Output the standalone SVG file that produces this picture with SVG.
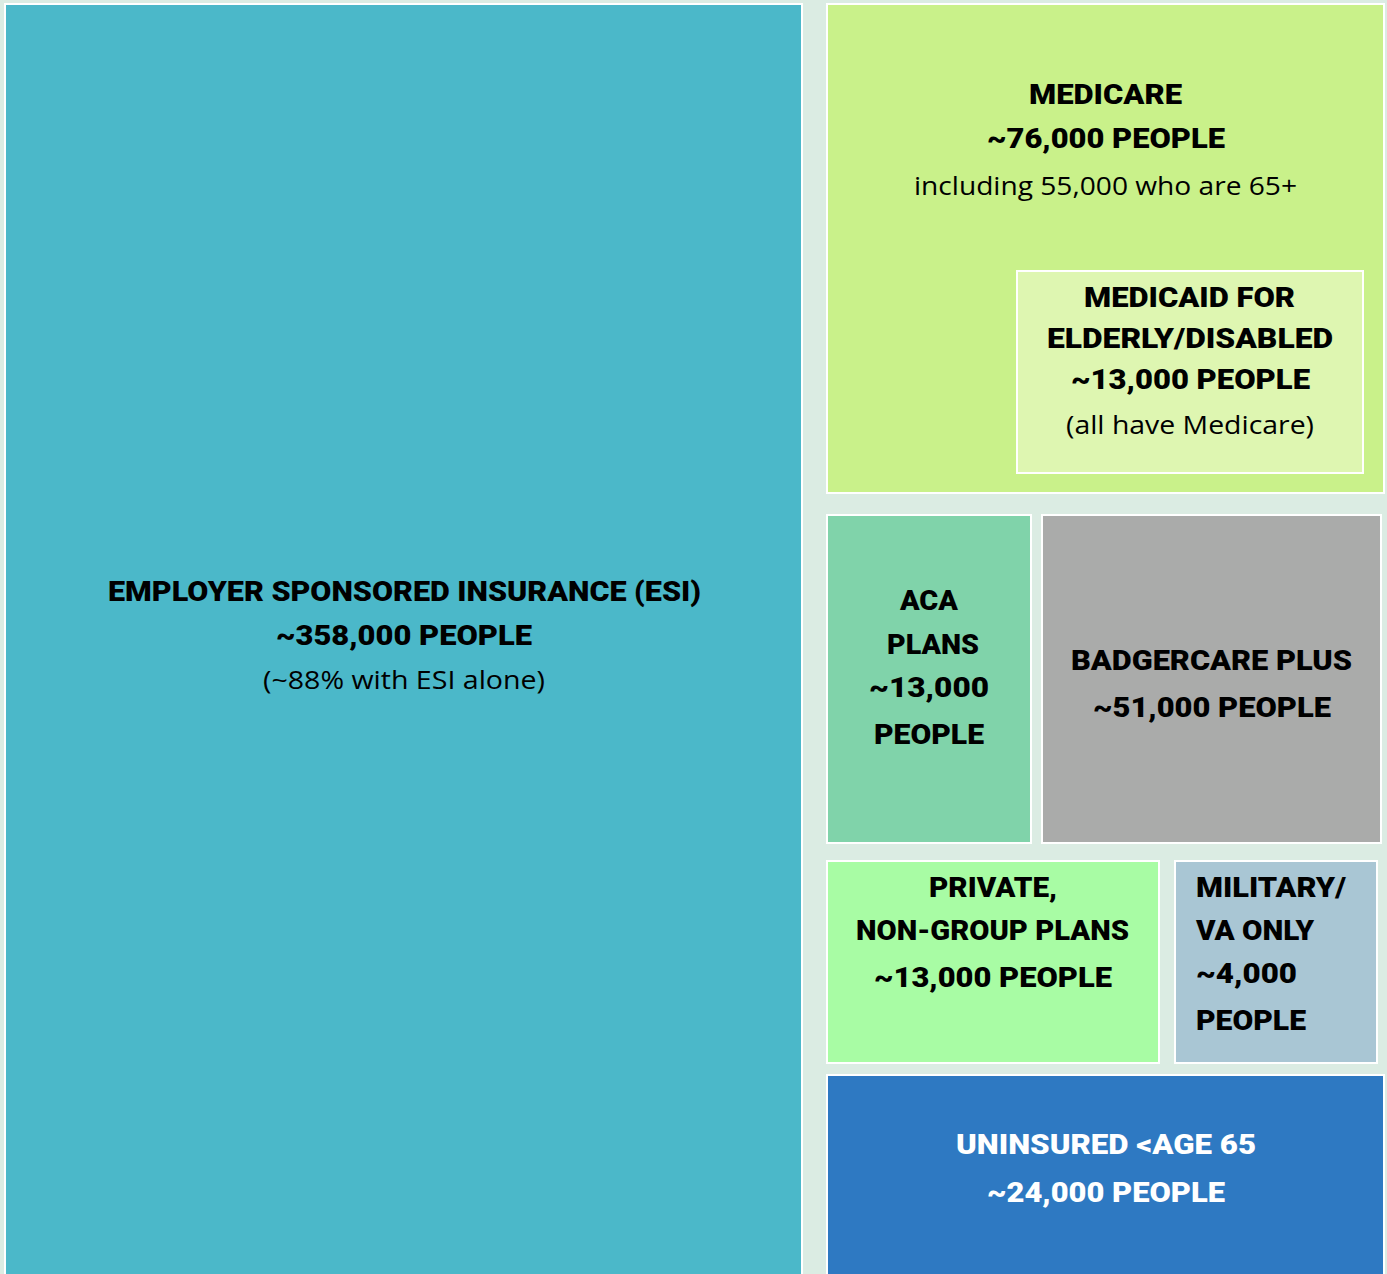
<svg xmlns="http://www.w3.org/2000/svg" width="1387" height="1274" viewBox="0 0 1387 1274">
<style>
.box{stroke:#ffffff;stroke-width:2}
.b{font-family:Roboto,"Liberation Sans",sans-serif;font-weight:900;font-size:28px;fill:#000}
.r{font-family:"Open Sans","Noto Sans",sans-serif;font-size:26px;fill:#000}
.c{text-anchor:middle}
.w{fill:#ffffff}
</style>
<rect x="0" y="0" width="1387" height="1274" fill="#dbece3"/>
<g id="esi">
<rect class="box" x="5" y="4" width="797" height="1280" fill="#4bb8c9"/>
<text class="b c" x="404.5" y="601" textLength="593" lengthAdjust="spacingAndGlyphs">EMPLOYER SPONSORED INSURANCE (ESI)</text>
<text class="b c" x="404" y="645" textLength="256" lengthAdjust="spacingAndGlyphs">~358,000 PEOPLE</text>
<text class="r c" x="404" y="689" textLength="282" lengthAdjust="spacingAndGlyphs">(~88% with ESI alone)</text>
</g>
<g id="medicare">
<rect class="box" x="827" y="4" width="557" height="489" fill="#c9f18a"/>
<text class="b c" x="1105.5" y="104" textLength="153" lengthAdjust="spacingAndGlyphs">MEDICARE</text>
<text class="b c" x="1106" y="148" textLength="238" lengthAdjust="spacingAndGlyphs">~76,000 PEOPLE</text>
<text class="r c" x="1105.5" y="195" textLength="383" lengthAdjust="spacingAndGlyphs">including 55,000 who are 65+</text>
</g>
<g id="medicaid">
<rect class="box" x="1017" y="271" width="346" height="202" fill="#def6b1"/>
<text class="b c" x="1189.5" y="307" textLength="211" lengthAdjust="spacingAndGlyphs">MEDICAID FOR</text>
<text class="b c" x="1190" y="348" textLength="286" lengthAdjust="spacingAndGlyphs">ELDERLY/DISABLED</text>
<text class="b c" x="1190.5" y="389" textLength="239" lengthAdjust="spacingAndGlyphs">~13,000 PEOPLE</text>
<text class="r c" x="1190" y="434" textLength="248" lengthAdjust="spacingAndGlyphs">(all have Medicare)</text>
</g>
<g id="aca">
<rect class="box" x="827" y="515" width="204" height="328" fill="#80d3aa"/>
<text class="b c" x="929" y="610" textLength="58" lengthAdjust="spacingAndGlyphs">ACA</text>
<text class="b c" x="933" y="654" textLength="92" lengthAdjust="spacingAndGlyphs">PLANS</text>
<text class="b c" x="929" y="697" textLength="120" lengthAdjust="spacingAndGlyphs">~13,000</text>
<text class="b c" x="929" y="744" textLength="110" lengthAdjust="spacingAndGlyphs">PEOPLE</text>
</g>
<g id="badgercare">
<rect class="box" x="1042" y="515" width="339" height="328" fill="#aaabaa"/>
<text class="b c" x="1211.5" y="670" textLength="281" lengthAdjust="spacingAndGlyphs">BADGERCARE PLUS</text>
<text class="b c" x="1212" y="717" textLength="238" lengthAdjust="spacingAndGlyphs">~51,000 PEOPLE</text>
</g>
<g id="private">
<rect class="box" x="827" y="861" width="332" height="202" fill="#a8fca4"/>
<text class="b c" x="993" y="897" textLength="128" lengthAdjust="spacingAndGlyphs">PRIVATE,</text>
<text class="b c" x="992.5" y="940" textLength="273" lengthAdjust="spacingAndGlyphs">NON-GROUP PLANS</text>
<text class="b c" x="993" y="987" textLength="238" lengthAdjust="spacingAndGlyphs">~13,000 PEOPLE</text>
</g>
<g id="military">
<rect class="box" x="1175" y="861" width="202" height="202" fill="#a9c6d4"/>
<text class="b" x="1196" y="897" textLength="150" lengthAdjust="spacingAndGlyphs">MILITARY/</text>
<text class="b" x="1196" y="940" textLength="118" lengthAdjust="spacingAndGlyphs">VA ONLY</text>
<text class="b" x="1196" y="983" textLength="101" lengthAdjust="spacingAndGlyphs">~4,000</text>
<text class="b" x="1196" y="1030" textLength="110" lengthAdjust="spacingAndGlyphs">PEOPLE</text>
</g>
<g id="uninsured">
<rect class="box" x="827" y="1075" width="557" height="210" fill="#2e79c2"/>
<text class="b c w" x="1106" y="1154" textLength="300" lengthAdjust="spacingAndGlyphs">UNINSURED &lt;AGE 65</text>
<text class="b c w" x="1106" y="1202" textLength="238" lengthAdjust="spacingAndGlyphs">~24,000 PEOPLE</text>
</g>
<g id="connectors"/>
</svg>
